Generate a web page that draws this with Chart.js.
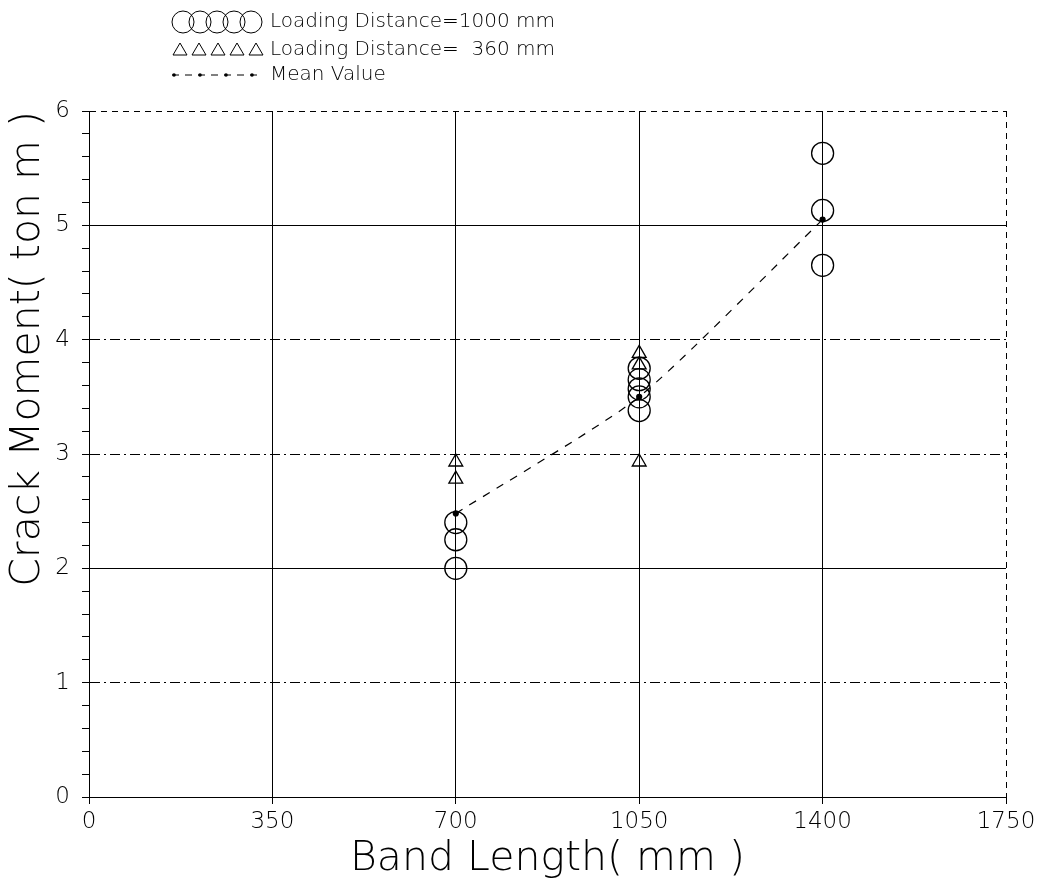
<!DOCTYPE html>
<html>
<head>
<meta charset="utf-8">
<script src="https://cdn.jsdelivr.net/npm/chart.js@4.4.1/dist/chart.umd.min.js"></script>
<style>
  html, body { margin: 0; padding: 0; background: #fff; }
  #wrap { width: 1045px; height: 888px; }
</style>
</head>
<body>
<div id="wrap"><canvas id="crackChart"></canvas></div>
<script>
// Loading distance = 1000 mm (circles)
const circleX = [700, 700, 700, 1050, 1050, 1050, 1050, 1050, 1400, 1400, 1400];
const circleY = [2.0, 2.25, 2.4, 3.38, 3.5, 3.57, 3.65, 3.75, 4.65, 5.13, 5.63];
// Loading distance = 360 mm (triangles)
const triangleX = [700, 700, 1050, 1050, 1050];
const triangleY = [2.78, 2.93, 2.93, 3.78, 3.88];
// mean values
const meanX = [700, 1050, 1400];
const meanY = [2.48, 3.5, 5.05];

const xTicks = [0, 350, 700, 1050, 1400, 1750];
const yTicks = [0, 1, 2, 3, 4, 5, 6];

const legendLabels = ['Loading Distance=1000 mm', 'Loading Distance=  360 mm', 'Mean Value'];

const FONT = '"DejaVu Sans", "Liberation Sans", sans-serif';

function pts(xs, ys) {
    return xs.map((x, i) => ({x: x, y: ys[i]}));
}

function isInt(v) {
    return Math.abs(v - Math.round(v)) < 1e-6;
}

// legend drawn at top left, like the original plotter output
const plotLegend = {
    id: 'plotLegend',
    afterDraw(chart) {
        const c = chart.ctx;
        c.save();
        c.strokeStyle = '#000';
        c.fillStyle = '#000';
        c.lineWidth = 1;
        // circles
        for (let i = 0; i < 5; i++) {
            c.beginPath();
            c.arc(183 + i * 17, 22, 11, 0, Math.PI * 2);
            c.stroke();
        }
        // triangles
        for (let i = 0; i < 5; i++) {
            const cx = 180 + i * 19, cy = 50;
            c.beginPath();
            c.moveTo(cx, cy - 7);
            c.lineTo(cx + 7, cy + 5);
            c.lineTo(cx - 7, cy + 5);
            c.closePath();
            c.stroke();
        }
        // mean line sample
        c.setLineDash([7, 6]);
        c.beginPath();
        c.moveTo(172, 75);
        c.lineTo(258, 75);
        c.stroke();
        c.setLineDash([]);
        [174, 200, 226, 252].forEach(x => {
            c.beginPath();
            c.arc(x, 75, 1.8, 0, Math.PI * 2);
            c.fill();
        });
        c.font = '200 20px ' + FONT;
        c.textBaseline = 'middle';
        c.fillText(legendLabels[0], 270, 22);
        c.fillText(legendLabels[1], 270, 50);
        c.fillText(legendLabels[2], 270, 75);
        c.restore();
    }
};

const ctx = document.getElementById('crackChart');

new Chart(
    ctx, {
        type: 'scatter',
        data: {
            datasets: [
                {
                    label: legendLabels[0],
                    data: pts(circleX, circleY),
                    pointStyle: 'circle',
                    pointRadius: 11,
                    pointBorderWidth: 1.3,
                    pointBorderColor: '#000',
                    pointBackgroundColor: 'rgba(0,0,0,0)',
                    showLine: false
                },
                {
                    label: legendLabels[1],
                    data: pts(triangleX, triangleY),
                    pointStyle: 'triangle',
                    pointRadius: 8,
                    pointBorderWidth: 1.3,
                    pointBorderColor: '#000',
                    pointBackgroundColor: 'rgba(0,0,0,0)',
                    showLine: false
                },
                {
                    label: legendLabels[2],
                    data: pts(meanX, meanY),
                    showLine: true,
                    borderColor: '#000',
                    borderWidth: 1.2,
                    borderDash: [8, 8],
                    pointRadius: 2.5,
                    pointBackgroundColor: '#000',
                    pointBorderColor: '#000',
                    tension: 0.2
                }
            ]
        },
        options: {
            responsive: true,
            maintainAspectRatio: false,
            animation: false,
            layout: { padding: { top: 111, right: 39, left: 0, bottom: 0 } },
            plugins: {
                legend: { display: false },
                tooltip: { enabled: false }
            },
            scales: {
                x: {
                    type: 'linear',
                    min: 0,
                    max: 1750,
                    afterBuildTicks: (scale) => { scale.ticks = xTicks.map(v => ({value: v})); },
                    afterFit: (scale) => { scale.height = 91; },
                    ticks: {
                        color: '#000',
                        padding: 4,
                        font: { family: FONT, size: 23, weight: '200' },
                        callback: (v) => String(v)
                    },
                    grid: {
                        color: '#000',
                        lineWidth: 1,
                        tickLength: 7
                    },
                    border: {
                        display: true,
                        color: '#000',
                        dash: (c) => (c.tick && c.tick.value === 1750) ? [6, 5] : []
                    },
                    title: {
                        display: true,
                        text: 'Band Length( mm )',
                        color: '#000',
                        padding: { top: 0 },
                        font: { family: FONT, size: 41, weight: '200' }
                    }
                },
                y: {
                    min: 0,
                    max: 6,
                    afterBuildTicks: (scale) => {
                        const t = [];
                        for (let i = 0; i <= 30; i++) t.push({value: Math.round(i * 2) / 10});
                        scale.ticks = t;
                    },
                    afterFit: (scale) => { scale.width = 89; },
                    ticks: {
                        color: '#000',
                        padding: 12,
                        autoSkip: false,
                        font: { family: FONT, size: 23, weight: '200' },
                        callback: (v) => isInt(v) ? String(Math.round(v)) : ''
                    },
                    grid: {
                        color: (c) => (c.tick && isInt(c.tick.value)) ? '#000' : 'rgba(0,0,0,0)',
                        tickColor: '#000',
                        lineWidth: 1,
                        tickLength: 7
                    },
                    border: {
                        display: true,
                        color: '#000',
                        dash: (c) => {
                            if (!c.tick) return [];
                            const v = Math.round(c.tick.value * 10) / 10;
                            if (v === 6) return [6, 5];
                            if (v === 1 || v === 3 || v === 4) return [10, 4, 2, 4];
                            return [];
                        }
                    },
                    title: {
                        display: true,
                        text: 'Crack Moment( ton m )',
                        color: '#000',
                        align: 'end',
                        padding: { bottom: 0 },
                        font: { family: FONT, size: 41, weight: '200' }
                    }
                }
            }
        },
        plugins: [plotLegend]
    }
)
</script>
</body>
</html>
